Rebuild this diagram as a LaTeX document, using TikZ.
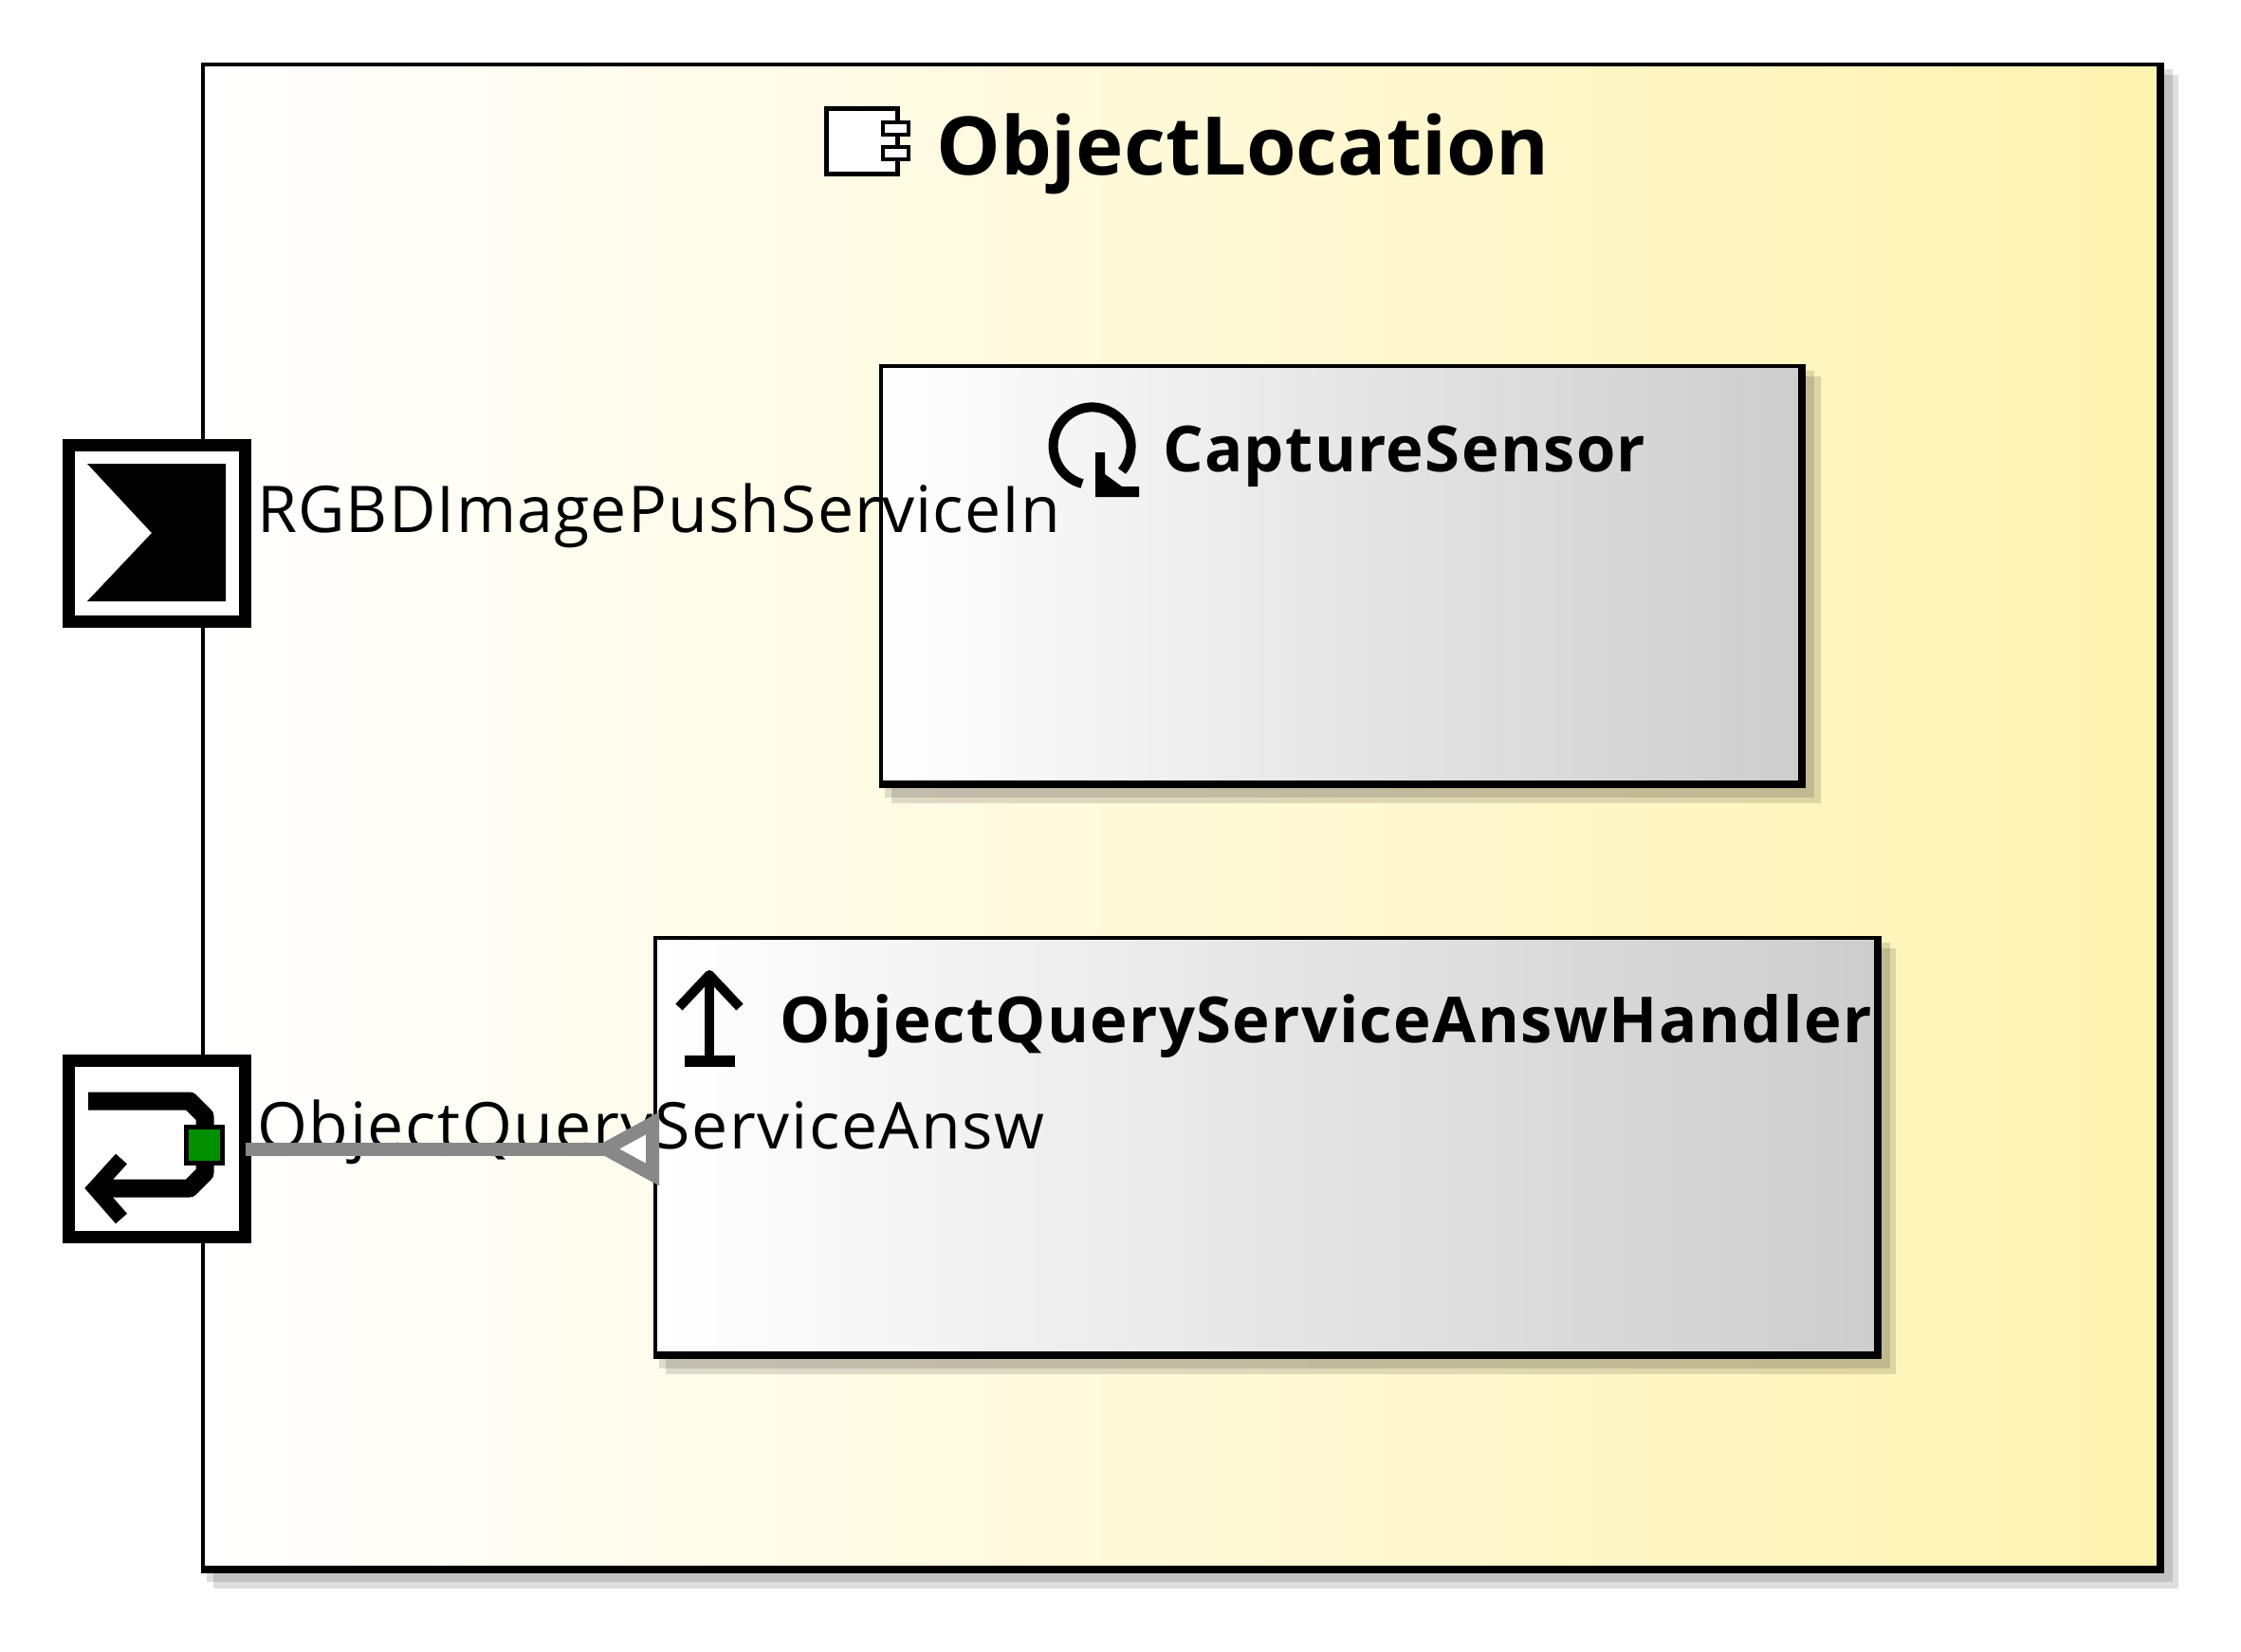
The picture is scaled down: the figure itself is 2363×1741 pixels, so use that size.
\documentclass[tikz,border=0pt]{standalone}
\usepackage{fontspec}
\setmainfont[LetterSpace=1.7]{Open Sans}
\newfontfamily\boldlabel[LetterSpace=2.0]{Open Sans Bold}
\newfontfamily\titlelabel{Open Sans Bold}
\definecolor{compyellow}{HTML}{FFF3B0}
\definecolor{stategray}{HTML}{CDCDCD}
\definecolor{linkgray}{HTML}{888888}
\definecolor{portgreen}{HTML}{009000}
\tikzset{
    dropband/.style={fill=black,opacity=0.13},
    edgeline/.style={line width=8pt,line join=miter},
    compbox/.style={draw=black,line width=4pt,inner sep=0pt,outer sep=0pt,left color=white,right color=compyellow},
    statebox/.style={draw=black,line width=4pt,inner sep=0pt,outer sep=0pt,left color=white,right color=stategray},
    portbox/.style={draw=black,fill=white,line width=13pt,inner sep=0pt,outer sep=0pt,minimum size=186pt},
    portlabel/.style={inner sep=0pt,anchor=base west,font=\fontsize{68}{80}\selectfont},
    namelabel/.style={inner sep=0pt,anchor=base west,font=\boldlabel\fontsize{67}{80}\selectfont},
    iconline/.style={line width=10pt,line join=round},
    linkline/.style={draw=linkgray,line width=14pt},
}
\begin{document}
\begin{tikzpicture}[x=1pt,y=-1pt]
    \useasboundingbox (0,0) rectangle (2363,1741);
    % main component
    \fill[dropband] (218,73) rectangle (2291,1668);
    \fill[dropband] (225,79) rectangle (2297,1675);
    \node[compbox,minimum width=2066pt,minimum height=1589pt] (objectlocation) at (1247,862.5) {};
    \draw[edgeline] ([xshift=-2pt]objectlocation.north east) -- ([xshift=-2pt,yshift=2pt]objectlocation.south east) -- ([yshift=2pt]objectlocation.south west);
    \node[inner sep=0pt,anchor=base west,font=\titlelabel\fontsize{85.2}{100}\selectfont] (title) at (987,184) {ObjectLocation};
    % component icon
    \draw[line width=5pt,fill=white] (871,114) rectangle (946,183);
    \draw[line width=4pt,fill=white] (931,129) rectangle (958,142);
    \draw[line width=4pt,fill=white] (931,155) rectangle (958,168);
    % inner boxes
    \fill[dropband] (933,391) rectangle (1913,841);
    \fill[dropband] (940,397) rectangle (1920,847);
    \node[statebox,minimum width=973pt,minimum height=443pt] (capture) at (1415.5,607.5) {};
    \draw[edgeline] ([xshift=-2pt]capture.north east) -- ([xshift=-2pt,yshift=2pt]capture.south east) -- ([yshift=2pt]capture.south west);
    \fill[dropband] (695,994) rectangle (1993,1443);
    \fill[dropband] (702,1000) rectangle (1999,1449);
    \node[statebox,minimum width=1291pt,minimum height=442pt] (handler) at (1336,1210) {};
    \draw[edgeline] ([xshift=-2pt]handler.north east) -- ([xshift=-2pt,yshift=2pt]handler.south east) -- ([yshift=2pt]handler.south west);
    \node[namelabel] (capturename) at (1226,497) {CaptureSensor};
    \node[namelabel] (handlername) at (822,1099) {ObjectQueryServiceAnswHandler};
    % loop icon
    \draw[iconline] (1141,510) arc[start angle=255,end angle=-40,radius=41pt];
    \fill (1155,477) -- (1165,477) -- (1165,500) -- (1183,513) -- (1201,513) -- (1201,524) -- (1155,524) -- cycle;
    % up arrow icon
    \draw[iconline] (748,1113) -- (748,1028);
    \draw[iconline] (716,1062) -- (748,1028) -- (780,1062);
    \fill (722,1113) rectangle (775,1125);
    % ports
    \node[portbox] (push) at (165.5,562.5) {};
    \fill (92,489) -- (238,489) -- (238,634) -- (92,634) -- (160,562) -- cycle;
    \node[portlabel] (pushname) at (271,561) {RGBDImagePushServiceIn};
    \node[portbox] (answ) at (165.5,1211.5) {};
    \draw[line width=19pt,line join=round] (93,1161) -- (200,1161) -- (216,1177) -- (216,1237) -- (200,1253) -- (100,1253);
    \draw[line width=16pt] (128,1222) -- (100,1253) -- (128,1285);
    \node[fill=portgreen,draw=black,line width=5pt,inner sep=0pt,minimum size=38pt] (answdot) at (215,1207) {};
    \node[portlabel,font=\addfontfeature{LetterSpace=2.4}\fontsize{68}{80}\selectfont] (answname) at (271,1211) {ObjectQueryServiceAnsw};
    % link
    \coordinate (hook) at (handler.west |- answ.east);
    \draw[linkline] (answ.east) -- (hook);
    \draw[linkline,fill=white,miter limit=10] ([xshift=-52pt]hook) -- ([xshift=-2.5pt,yshift=27pt]hook) -- ([xshift=-2.5pt,yshift=-27pt]hook) -- cycle;
\end{tikzpicture}
\end{document}
